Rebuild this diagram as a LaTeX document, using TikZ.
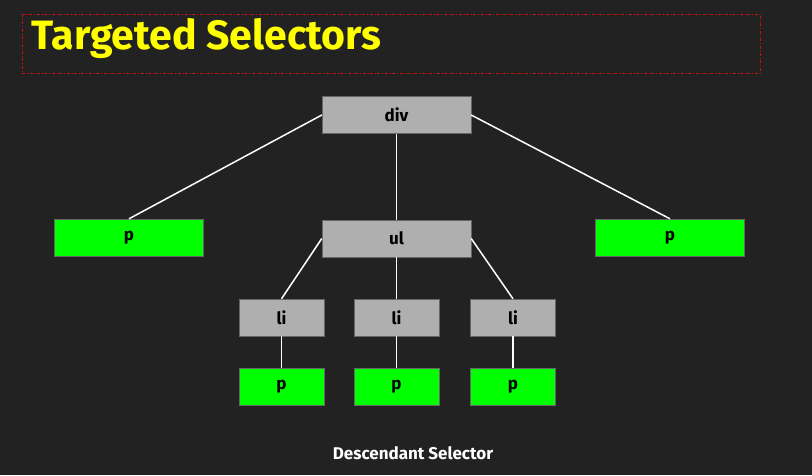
\documentclass[tikz,border=0pt]{standalone}
\usepackage{fontspec}
\setmainfont{Fira Sans}
\usetikzlibrary{positioning}
\definecolor{bgdark}{HTML}{222222}
\definecolor{boxgray}{HTML}{AFAFAF}
\definecolor{boxedge}{HTML}{666666}
\definecolor{tagyellow}{HTML}{FFFF00}
\definecolor{tagred}{HTML}{CC1111}
\tikzset {
  x=1pt, y=-1pt,
  % element boxes of the tree
  tag/.style = {draw=boxedge, fill=boxgray, minimum width=149pt, minimum height=37pt,
    inner sep=0pt, font=\fontsize{17}{20}\selectfont\bfseries, text=black},
  small/.style = {minimum width=85pt},
  % the selected elements
  hit/.style = {fill=green, draw=boxedge},
  edge/.style = {white, line width=1.5pt},
}
\begin{document}
\begin{tikzpicture}
      \fill[bgdark] (0,0) rectangle (812,475);
      \useasboundingbox (0,0) rectangle (812,475);

      \draw[tagred, dash dot, line width=0.8pt] (22,14) rectangle (760,73);
      \node[anchor=west, text=tagyellow, font=\fontsize{41}{48}\selectfont\bfseries] (title) at (28,38) {Targeted Selectors};

      \node[tag] (div) at (396.5,115) {div};
      \node[tag, hit] (p1) at (129,237.5) {p};
      \node[tag] (ul) at (396.5,238.5) {ul};
      \node[tag, hit] (p2) at (670,237.5) {p};

      \node[tag, small] (li1) at (281.5,317.5) {li};
      \node[tag, small] (li2) at (396.5,317.5) {li};
      \node[tag, small] (li3) at (513,317.5) {li};

      \node[tag, small, hit] (p3) at (281.5,386.5) {p};
      \node[tag, small, hit] (p4) at (396.5,386.5) {p};
      \node[tag, small, hit] (p5) at (513,386.5) {p};

      \draw[edge] (div.west) -- (p1.north);
      \draw[edge] (div.east) -- (p2.north);
      \draw[edge] (div) -- (ul);
      \draw[edge] (ul.west) -- (li1.north);
      \draw[edge] (ul) -- (li2);
      \draw[edge] (ul.east) -- (li3.north);
      \draw[edge] (li1) -- (p3);
      \draw[edge] (li2) -- (p4);
      \draw[edge] (li3) -- (p5);

      \node[text=white, font=\fontsize{17}{20}\selectfont\bfseries] (caption) at (413,453) {Descendant Selector};
    \end{tikzpicture}
\end{document}
